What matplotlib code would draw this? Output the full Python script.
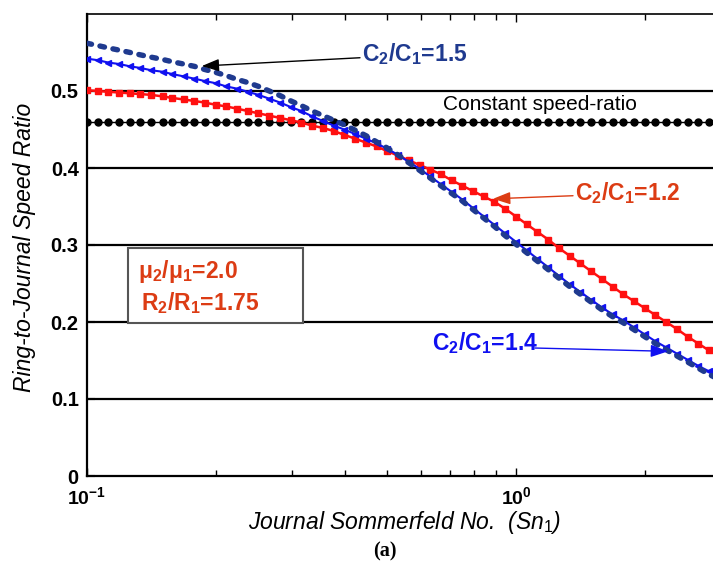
import matplotlib
matplotlib.use("Agg")
import matplotlib.pyplot as plt
from matplotlib.ticker import FixedLocator, NullFormatter
from matplotlib.patches import Rectangle

plt.rcParams["font.family"] = ["Liberation Sans", "DejaVu Sans"]
plt.rcParams["mathtext.fontset"] = "custom"
plt.rcParams["mathtext.rm"] = "Liberation Sans"
plt.rcParams["mathtext.it"] = "Liberation Sans:italic"
plt.rcParams["mathtext.bf"] = "Liberation Sans:bold"

# Journal Sommerfeld number samples
sommerfeld = [0.100, 0.106, 0.112, 0.119, 0.126, 0.133, 0.141, 0.150, 0.158, 0.168,
              0.178, 0.188, 0.200, 0.211, 0.224, 0.237, 0.251, 0.266, 0.282, 0.299,
              0.316, 0.335, 0.355, 0.376, 0.398, 0.422, 0.447, 0.473, 0.501, 0.531,
              0.562, 0.596, 0.631, 0.668, 0.708, 0.750, 0.794, 0.841, 0.891, 0.944,
              1.000, 1.059, 1.122, 1.189, 1.259, 1.334, 1.413, 1.496, 1.585, 1.679,
              1.778, 1.884, 1.995, 2.113, 2.239, 2.371, 2.512, 2.661, 2.818, 2.985]

# Ring-to-journal speed ratio, C2/C1 = 1.5
ratio_c15 = [0.562, 0.559, 0.556, 0.553, 0.550, 0.547, 0.544, 0.541, 0.538, 0.535,
             0.532, 0.528, 0.524, 0.520, 0.515, 0.511, 0.506, 0.500, 0.494, 0.487,
             0.481, 0.474, 0.468, 0.462, 0.456, 0.449, 0.442, 0.434, 0.426, 0.417,
             0.407, 0.397, 0.387, 0.377, 0.367, 0.357, 0.346, 0.335, 0.324, 0.312,
             0.301, 0.290, 0.279, 0.268, 0.257, 0.246, 0.236, 0.226, 0.216, 0.207,
             0.199, 0.190, 0.181, 0.172, 0.164, 0.156, 0.148, 0.140, 0.132, 0.125]

# C2/C1 = 1.4
ratio_c14 = [0.542, 0.540, 0.537, 0.535, 0.532, 0.530, 0.527, 0.525, 0.522, 0.519,
             0.516, 0.513, 0.510, 0.506, 0.503, 0.499, 0.495, 0.490, 0.485, 0.479,
             0.474, 0.467, 0.461, 0.455, 0.450, 0.444, 0.438, 0.432, 0.425, 0.417,
             0.408, 0.399, 0.389, 0.379, 0.369, 0.359, 0.348, 0.337, 0.326, 0.315,
             0.304, 0.293, 0.282, 0.271, 0.260, 0.249, 0.239, 0.229, 0.219, 0.210,
             0.202, 0.193, 0.184, 0.175, 0.167, 0.159, 0.151, 0.143, 0.136, 0.129]

# C2/C1 = 1.2
ratio_c12 = [0.501, 0.500, 0.499, 0.498, 0.497, 0.496, 0.495, 0.493, 0.491, 0.489,
             0.487, 0.485, 0.482, 0.480, 0.477, 0.474, 0.471, 0.468, 0.465, 0.462,
             0.459, 0.455, 0.452, 0.448, 0.443, 0.438, 0.433, 0.428, 0.422, 0.416,
             0.410, 0.404, 0.398, 0.392, 0.384, 0.377, 0.370, 0.363, 0.356, 0.347,
             0.337, 0.327, 0.317, 0.307, 0.296, 0.286, 0.276, 0.266, 0.256, 0.246,
             0.236, 0.227, 0.218, 0.209, 0.200, 0.191, 0.181, 0.172, 0.163, 0.155]

# Constant speed-ratio reference
ratio_const = [0.46] * len(sommerfeld)

y_ticks = [0, 0.1, 0.2, 0.3, 0.4, 0.5]
y_tick_labels = ["0", "0.1", "0.2", "0.3", "0.4", "0.5"]
x_major = [0.1, 1.0]
x_major_labels = [r"$\mathbf{10^{-1}}$", r"$\mathbf{10^{0}}$"]
x_minor = [0.2, 0.3, 0.4, 0.5, 0.6, 0.7, 0.8, 0.9, 2.0]

NAVY = "#1f3a8f"
BLUE = "#1010f0"
RED = "#ff1010"
ORANGE = "#dc3c14"

W, H = 713, 567
fig = plt.figure(figsize=(W / 100, H / 100), dpi=100)
ax = fig.add_axes([87 / W, 1 - 476 / H, 1 - 87 / W, (476 - 14) / H])

ax.set_xscale("log")
ax.set_xlim(0.1, 2.879)
ax.set_ylim(0, 0.6)

# horizontal grid
for yv in y_ticks[1:]:
    ax.axhline(yv, color="black", lw=1.6, zorder=1)

ax.plot(sommerfeld, ratio_const, color="black", lw=1.0, marker="o", ms=5.0,
        zorder=3)
ax.plot(sommerfeld, ratio_c12, color=RED, lw=1.8, marker="s", ms=4.2,
        zorder=4)
ax.plot(sommerfeld, ratio_c14, color=BLUE, lw=1.5, marker="<", ms=4.6,
        zorder=5)
ax.plot(sommerfeld, ratio_c15, color=NAVY, lw=3.9, dashes=(0.85, 1.6),
        dash_capstyle="round", zorder=6)

# ticks
ax.xaxis.set_major_locator(FixedLocator(x_major))
ax.xaxis.set_minor_locator(FixedLocator(x_minor))
ax.xaxis.set_minor_formatter(NullFormatter())
ax.set_xticklabels(x_major_labels)
ax.set_yticks(y_ticks)
ax.set_yticklabels(y_tick_labels)
ax.tick_params(axis="x", which="major", direction="in", top=True, bottom=True,
               length=6, width=1.0, labelsize=14, pad=7)
ax.tick_params(axis="x", which="minor", direction="in", top=True, bottom=True,
               length=4, width=1.0)
ax.tick_params(axis="y", which="major", direction="in", left=True, right=False,
               length=6, width=1.5, labelsize=14.5, pad=6)
for lab in ax.get_yticklabels():
    lab.set_fontweight("bold")

ax.spines["right"].set_visible(False)
ax.spines["left"].set_linewidth(1.6)
ax.spines["bottom"].set_linewidth(1.6)
ax.spines["top"].set_linewidth(1.2)

# curve labels and arrows
txt_kw = dict(fontsize=16.5, fontweight="bold", va="baseline", ha="left", zorder=8)
arrow_style = "-|>,head_length=0.7,head_width=0.25"
ax.text(0.4375, 0.539, r"$\mathbf{C_2/C_1}$=1.5", color=NAVY, **txt_kw)
ax.annotate("", xy=(0.1851, 0.5324), xytext=(0.4329, 0.5432),
            arrowprops=dict(arrowstyle=arrow_style, color="black", lw=1.0,
                            mutation_scale=15, shrinkA=0, shrinkB=0), zorder=8)

ax.text(1.373, 0.3588, r"$\mathbf{C_2/C_1}$=1.2", color=ORANGE, **txt_kw)
ax.annotate("", xy=(0.884, 0.360), xytext=(1.358, 0.364),
            arrowprops=dict(arrowstyle=arrow_style, color=ORANGE, lw=1.0,
                            mutation_scale=15, shrinkA=0, shrinkB=0), zorder=8)

ax.text(0.636, 0.164, r"$\mathbf{C_2/C_1}$=1.4", color=BLUE, **txt_kw)
ax.annotate("", xy=(2.262, 0.1619), xytext=(1.107, 0.1662),
            arrowprops=dict(arrowstyle=arrow_style, color=BLUE, lw=1.0,
                            mutation_scale=15, shrinkA=0, shrinkB=0), zorder=8)

ax.text(0.676, 0.483, "Constant speed-ratio", fontsize=15, color="black",
        va="center", ha="left", zorder=8)

# parameter box
ax.add_patch(Rectangle(((128 - 87) / 626, (476 - 322.5) / 462), 175 / 626, 75 / 462,
                       transform=ax.transAxes, facecolor="white",
                       edgecolor="#555555", lw=1.5, zorder=7))
ax.text(0.1315, (476 - 277) / 772, r"$\mathbf{\mu_2/\mu_1}$=2.0", color=ORANGE,
        **txt_kw)
ax.text(0.1335, (476 - 310) / 772, r"$\mathbf{R_2/R_1}$=1.75", color=ORANGE,
        **txt_kw)

# axis titles
fig.text(405 / W, 1 - 523 / H, r"Journal Sommerfeld No.  (Sn$_{\mathit{1}}$)",
         fontsize=16.5, style="italic", ha="center", va="center")
fig.text(25 / W, 1 - 247 / H, "Ring-to-Journal Speed Ratio", fontsize=16.5,
         style="italic", rotation=90, ha="center", va="center")
fig.text(385 / W, 1 - 551 / H, "(a)", fontsize=14.5, fontweight="bold",
         family="Liberation Serif", ha="center", va="center")

fig.savefig("out.png", dpi=100, facecolor="white")
